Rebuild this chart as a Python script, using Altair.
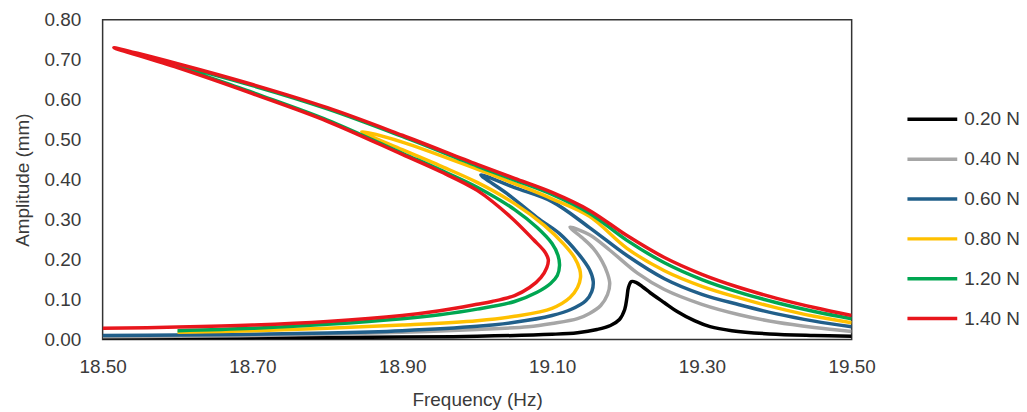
import altair as alt
import pandas as pd

labels = ["0.20 N", "0.40 N", "0.60 N", "0.80 N", "1.20 N", "1.40 N"]
colors = ["#000000", "#A6A6A6", "#215F8A", "#FFC000", "#00A651", "#E8161C"]

x_ticks = [18.50, 18.70, 18.90, 19.10, 19.30, 19.50]
y_ticks = [0.00, 0.10, 0.20, 0.30, 0.40, 0.50, 0.60, 0.70, 0.80]

# 0.20 N
f_020 = [18.50, 18.70, 18.90, 19.00, 19.10, 19.134, 19.16, 19.178, 19.19, 19.197, 19.200, 19.202,
         19.206, 19.212, 19.222, 19.231, 19.25, 19.267, 19.29, 19.311, 19.34, 19.39, 19.45, 19.50]
a_020 = [0.003, 0.004, 0.006, 0.008, 0.013, 0.017, 0.025, 0.035, 0.050, 0.075, 0.105, 0.130,
         0.145, 0.143, 0.130, 0.117, 0.092, 0.070, 0.047, 0.032, 0.022, 0.014, 0.010, 0.008]

# 0.40 N
f_040 = [18.50, 18.60, 18.70, 18.80, 18.90, 19.00, 19.068, 19.10, 19.134, 19.15, 19.165, 19.174,
         19.177, 19.174, 19.167, 19.155, 19.14, 19.124,
         19.15, 19.178, 19.214, 19.25, 19.30, 19.35, 19.40, 19.45, 19.50]
a_040 = [0.007, 0.008, 0.010, 0.013, 0.018, 0.025, 0.032, 0.040, 0.052, 0.065, 0.085, 0.112,
         0.140, 0.165, 0.195, 0.228, 0.255, 0.281,
         0.262, 0.222, 0.166, 0.125, 0.088, 0.062, 0.043, 0.030, 0.020]

# 0.60 N
f_060 = [18.50, 18.60, 18.70, 18.80, 18.90, 19.00, 19.05, 19.10, 19.125, 19.145, 19.153, 19.155,
         19.15, 19.135, 19.11, 19.08, 19.04, 19.005,
         19.05, 19.10, 19.15, 19.20, 19.25, 19.30, 19.35, 19.40, 19.45, 19.50]
a_060 = [0.010, 0.011, 0.013, 0.016, 0.022, 0.033, 0.043, 0.060, 0.075, 0.097, 0.120, 0.145,
         0.175, 0.215, 0.265, 0.305, 0.365, 0.412,
         0.380, 0.345, 0.280, 0.210, 0.152, 0.113, 0.087, 0.064, 0.046, 0.032]

# 0.80 N
f_080 = [18.60, 18.70, 18.80, 18.90, 19.00, 19.05, 19.10, 19.124, 19.134, 19.138, 19.137, 19.13,
         19.115, 19.09, 19.05, 19.00, 18.95, 18.90, 18.846,
         18.90, 19.00, 19.05, 19.10, 19.15, 19.20, 19.25, 19.30, 19.35, 19.40, 19.45, 19.50]
a_080 = [0.018, 0.022, 0.028, 0.036, 0.047, 0.058, 0.078, 0.105, 0.130, 0.155, 0.175, 0.205,
         0.240, 0.285, 0.340, 0.393, 0.435, 0.475, 0.520,
         0.494, 0.426, 0.390, 0.352, 0.308, 0.228, 0.172, 0.133, 0.104, 0.079, 0.058, 0.042]

# 1.20 N
f_120 = [18.60, 18.70, 18.80, 18.90, 18.95, 19.00, 19.05, 19.08, 19.098, 19.107, 19.11, 19.108,
         19.10, 19.08, 19.05, 19.00, 18.95, 18.90, 18.80, 18.70, 18.60,
         18.70, 18.80, 18.90, 19.00, 19.05, 19.10, 19.15, 19.20, 19.25, 19.30, 19.35, 19.40,
         19.45, 19.50]
a_120 = [0.022, 0.028, 0.038, 0.052, 0.062, 0.076, 0.095, 0.118, 0.140, 0.160, 0.185, 0.210,
         0.240, 0.280, 0.325, 0.381, 0.425, 0.466, 0.549, 0.618, 0.685,
         0.635, 0.577, 0.508, 0.434, 0.399, 0.363, 0.316, 0.248, 0.192, 0.150, 0.118, 0.092,
         0.070, 0.052]

# 1.40 N
f_140 = [18.50, 18.60, 18.70, 18.80, 18.90, 18.95, 19.00, 19.02, 19.05, 19.07, 19.085, 19.093,
         19.095, 19.09, 19.075, 19.045, 19.00, 18.95, 18.90, 18.80, 18.70, 18.60, 18.515,
         18.60, 18.70, 18.80, 18.90, 19.00, 19.05, 19.10, 19.15, 19.20, 19.25, 19.30, 19.35,
         19.40, 19.45, 19.50]
a_140 = [0.028, 0.031, 0.036, 0.045, 0.060, 0.072, 0.088, 0.095, 0.110, 0.130, 0.155, 0.180,
         0.200, 0.220, 0.250, 0.306, 0.373, 0.421, 0.463, 0.546, 0.615, 0.680, 0.730,
         0.690, 0.638, 0.580, 0.511, 0.438, 0.403, 0.368, 0.323, 0.260, 0.205, 0.163, 0.130,
         0.103, 0.080, 0.060]

series = [
    (labels[0], f_020, a_020),
    (labels[1], f_040, a_040),
    (labels[2], f_060, a_060),
    (labels[3], f_080, a_080),
    (labels[4], f_120, a_120),
    (labels[5], f_140, a_140),
]

rows = []
for lab, fs, amps in series:
    for i, (f, a) in enumerate(zip(fs, amps)):
        rows.append({"force": lab, "freq": f, "amp": a, "idx": i})
df = pd.DataFrame(rows)

FONT = "Liberation Sans"
TXT = "#3a3a3a"
color_scale = alt.Scale(domain=labels, range=colors)

lines = alt.Chart(df).mark_line(strokeWidth=3.5, interpolate="catmull-rom", clip=True).encode(
    x=alt.X("freq:Q",
            scale=alt.Scale(domain=[18.5, 19.5], nice=False, zero=False),
            axis=alt.Axis(values=x_ticks, format=".2f", title="Frequency (Hz)",
                          labelFlush=False, labelPadding=18, titlePadding=14)),
    y=alt.Y("amp:Q",
            scale=alt.Scale(domain=[0, 0.8], nice=False),
            axis=alt.Axis(values=y_ticks, format=".2f", title="Amplitude (mm)",
                          labelFlush=False, labelPadding=22, titlePadding=11)),
    color=alt.Color("force:N", scale=color_scale, legend=None),
    order=alt.Order("idx:Q"),
)

leg = pd.DataFrame({"force": labels})
leg_y = alt.Y("force:N", scale=alt.Scale(type="point", domain=labels, range=[100, 300], padding=0),
              axis=None)
leg_rules = alt.Chart(leg).mark_rule(strokeWidth=3.5).encode(
    x=alt.value(808), x2=alt.value(858), y=leg_y,
    color=alt.Color("force:N", scale=color_scale, legend=None),
)
leg_text = alt.Chart(leg).mark_text(align="left", baseline="middle", font=FONT, fontSize=19,
                                     color=TXT).encode(
    x=alt.value(865), y=leg_y, text="force:N",
)

chart = alt.layer(lines, leg_rules, leg_text).resolve_scale(y="independent").properties(
    width=752, height=321,
    padding={"left": 95, "top": 11, "right": 168, "bottom": 70},
    autosize=alt.AutoSizeParams(type="none"),
).configure_view(
    stroke="#333333", strokeWidth=1.5
).configure_axis(
    domain=False, ticks=False, grid=False,
    labelFont=FONT, labelFontSize=19, labelColor=TXT,
    titleFont=FONT, titleFontSize=19, titleColor=TXT, titleFontWeight="normal",
)

chart.save("out.html", embed_options={"renderer": "svg", "actions": False})
